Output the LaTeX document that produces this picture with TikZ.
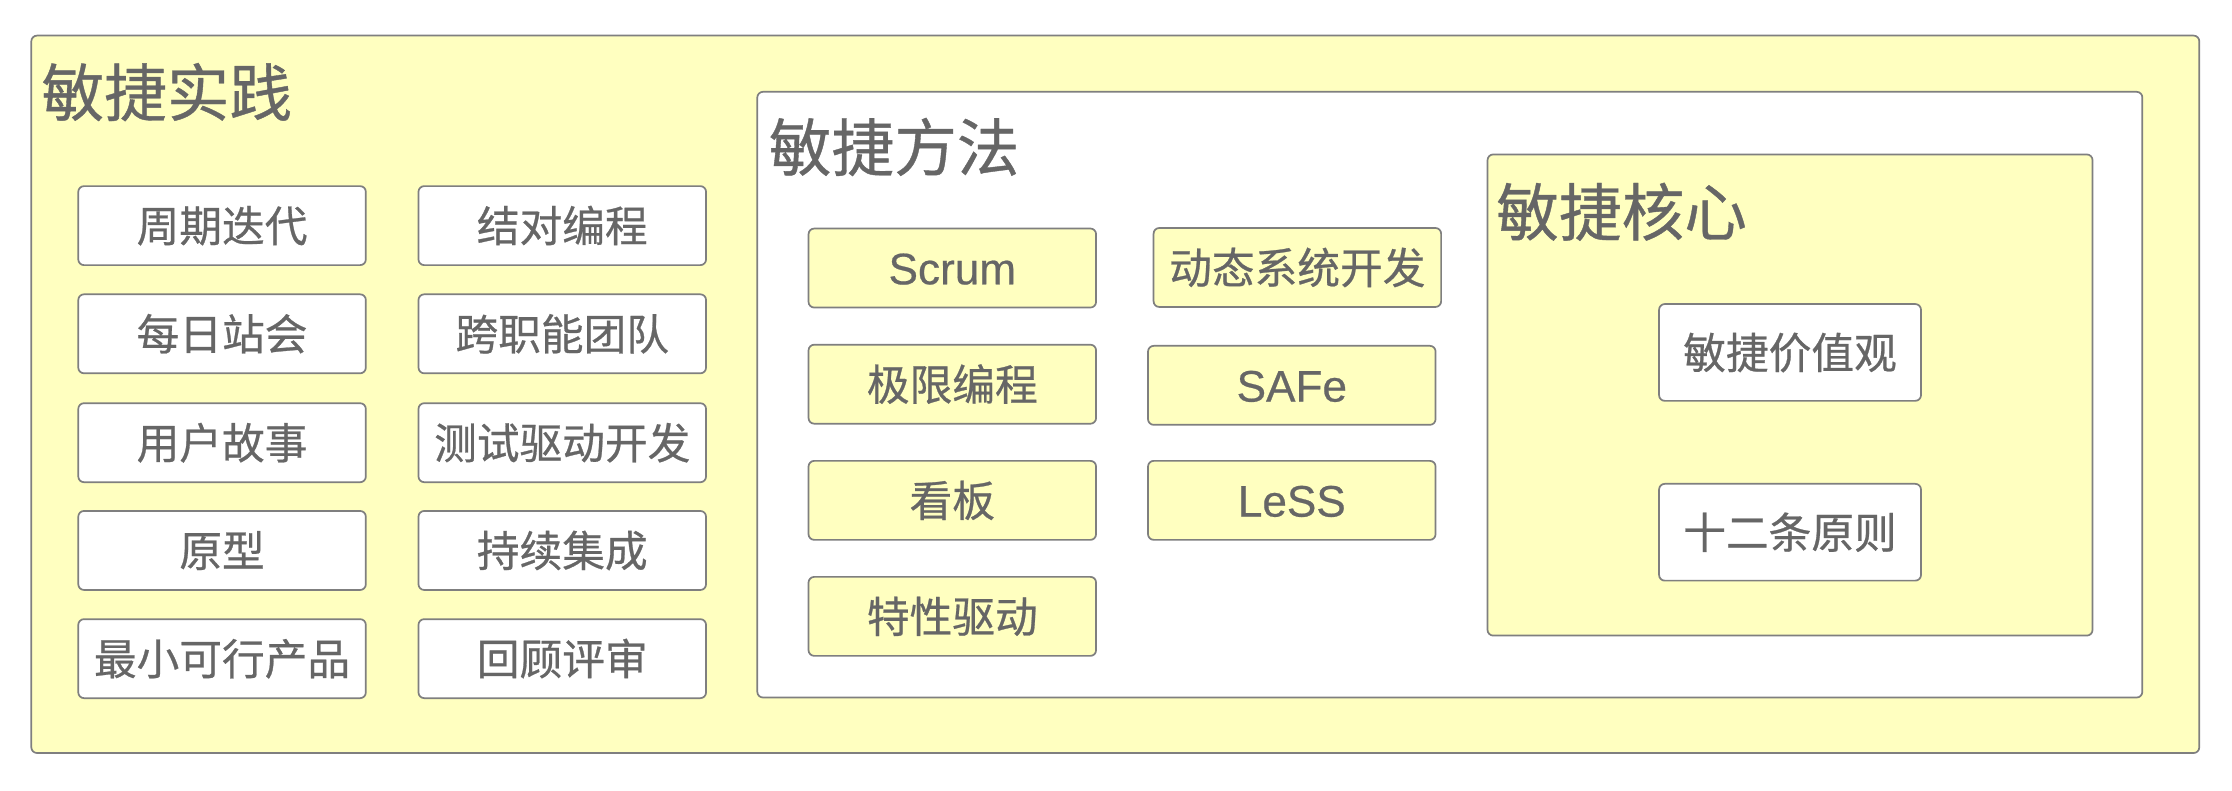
\documentclass[tikz,border=0pt]{standalone}
\usepackage{fontspec}
\setmainfont[FakeBold=0.5]{Liberation Sans}
\newfontfamily\cjk[FakeBold=0.6]{Noto Sans CJK SC}
\definecolor{paleyellow}{HTML}{FFFFC0}
\definecolor{linegray}{HTML}{7F7F7F}
\definecolor{textgray}{HTML}{666666}
\tikzset{
  frame/.style={draw=linegray, line width=1.2pt, rounded corners=4pt},
  container/.style={frame},
  itembox/.style={frame, rectangle, inner sep=0pt, text=textgray,
    minimum width=202pt, minimum height=55.5pt,
    text height=22.8pt, text depth=0pt,
    font=\cjk\fontsize{30}{30}\selectfont},
  latin/.style={font=\fontsize{31}{31}\selectfont},
  wbox/.style={itembox, fill=white},
  ybox/.style={itembox, fill=paleyellow},
  corebox/.style={wbox, minimum width=184pt, minimum height=68pt},
  title/.style={anchor=base west, inner sep=0pt, text=textgray,
    font=\cjk\fontsize{44}{44}\selectfont}
}
\begin{document}
\begin{tikzpicture}[x=1pt,y=-1pt]
\useasboundingbox (0,0) rectangle (1568,555);
% containers
\draw[container, fill=paleyellow] (22,25) rectangle (1545,529);
\draw[container, fill=white] (532,64.5) rectangle (1505,490);
\draw[container, fill=paleyellow] (1045,108.5) rectangle (1470,446.5);
% titles
\node[title] (tPractice) at (29,81.5) {敏捷实践};
\node[title] (tMethod) at (540,120) {敏捷方法};
\node[title] (tCore) at (1051,165.5) {敏捷核心};
% practices
\node[wbox] (p1) at (156,158.5) {周期迭代};
\node[wbox] (p2) at (156,234.5) {每日站会};
\node[wbox] (p3) at (156,311) {用户故事};
\node[wbox] (p4) at (156,386.7) {原型};
\node[wbox] (p5) at (156,462.7) {最小可行产品};
\node[wbox] (q1) at (395,158.5) {结对编程};
\node[wbox] (q2) at (395,234.5) {跨职能团队};
\node[wbox] (q3) at (395,311) {测试驱动开发};
\node[wbox] (q4) at (395,386.7) {持续集成};
\node[wbox] (q5) at (395,462.7) {回顾评审};
% methods
\node[ybox, latin] (m1) at (669,188.3) {Scrum};
\node[ybox] (m2) at (669,269.9) {极限编程};
\node[ybox] (m3) at (669,351.5) {看板};
\node[ybox] (m4) at (669,433) {特性驱动};
\node[ybox] (n1) at (911.4,187.9) {动态系统开发};
\node[ybox, latin] (n2) at (907.5,270.7) {SAFe};
\node[ybox, latin] (n3) at (907.5,351.5) {LeSS};
% core
\node[corebox] (c1) at (1257.5,247.6) {敏捷价值观};
\node[corebox] (c2) at (1257.5,373.9) {十二条原则};
\end{tikzpicture}
\end{document}
